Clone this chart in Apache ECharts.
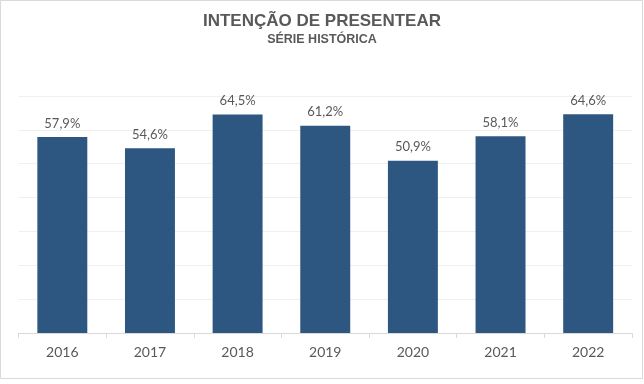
<!DOCTYPE html>
<html><head><meta charset="utf-8">
<script src="https://cdn.jsdelivr.net/npm/echarts@6/dist/echarts.min.js"></script>
<style>html,body{margin:0;padding:0;background:#fff}#c{width:644px;height:384px}</style>
</head><body><div id="c"></div>
<script>
const categories = ['2016','2017','2018','2019','2020','2021','2022'];
const values = [57.9, 54.6, 64.5, 61.2, 50.9, 58.1, 64.6];
const titleText = 'INTENÇÃO DE PRESENTEAR';
const subtitleText = 'SÉRIE HISTÓRICA';

const chart = echarts.init(document.getElementById('c'));
chart.setOption({
  animation: false,
  backgroundColor: '#fff',
  title: {
    text: titleText, subtext: subtitleText, left: 'center', top: 8, itemGap: 3,
    textStyle: {fontFamily: 'Liberation Sans', fontSize: 17, fontWeight: 'bold', color: '#595959'},
    subtextStyle: {fontFamily: 'Liberation Sans', fontSize: 12.5, fontWeight: 'bold', color: '#595959'}
  },
  graphic: [{type: 'rect', shape: {x: 0.5, y: 0.5, width: 642, height: 378}, style: {fill: 'none', stroke: '#d9d9d9', lineWidth: 1}, silent: true}],
  grid: {left: 18.5, right: 12, top: 96, bottom: 51, containLabel: false},
  xAxis: {
    type: 'category', data: categories,
    axisLine: {lineStyle: {color: '#d9d9d9'}},
    axisTick: {show: true, length: 5, lineStyle: {color: '#d9d9d9'}},
    axisLabel: {color: '#595959', fontFamily: 'Lato', fontSize: 14, margin: 12}
  },
  yAxis: {
    type: 'value', min: 0, max: 70, interval: 10,
    axisLabel: {show: false}, axisLine: {show: false}, axisTick: {show: false},
    splitLine: {lineStyle: {color: '#efefef'}}
  },
  series: [{
    type: 'bar', data: values, barWidth: '57%',
    itemStyle: {color: '#2d5780'},
    label: {show: true, position: 'top', distance: 7, color: '#595959', fontFamily: 'Lato', fontSize: 13,
      formatter: p => p.value.toFixed(1).replace('.', ',') + '%'}
  }]
});
</script></body></html>
